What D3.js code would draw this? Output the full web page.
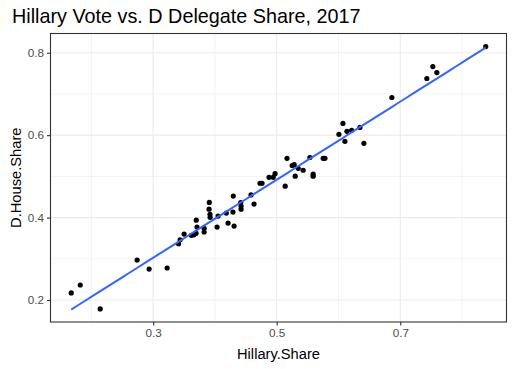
<!DOCTYPE html>
<html><head><meta charset="utf-8">
<script src="https://cdn.jsdelivr.net/npm/d3@7"></script>
<style>body{margin:0;background:#fff;} text{font-family:"Liberation Sans",Arial,sans-serif;}</style>
</head><body><svg id="c" width="514" height="369"></svg>
<script>
const hillaryShare = [0.1674,0.1820,0.2143,0.2741,0.2935,0.3226,0.3411,0.3437,0.3501,0.3618,0.3658,0.3695,0.3698,0.3710,0.3825,0.3825,0.3909,0.3905,0.3920,0.3922,0.4035,0.4051,0.4184,0.4213,0.4297,0.4292,0.4310,0.4418,0.4423,0.4423,0.4584,0.4633,0.4730,0.4762,0.4876,0.4943,0.4973,0.5137,0.5167,0.5251,0.5283,0.5299,0.5348,0.5428,0.5537,0.5590,0.5590,0.5752,0.5781,0.6007,0.6072,0.6104,0.6137,0.6213,0.6347,0.6411,0.6864,0.7430,0.7527,0.7592,0.8384];
const houseShare = [0.2172,0.2365,0.1785,0.2970,0.2752,0.2777,0.3365,0.3461,0.3599,0.3570,0.3582,0.3619,0.3938,0.3769,0.3740,0.3650,0.4369,0.4204,0.4078,0.4006,0.3769,0.4037,0.4110,0.3868,0.4521,0.4134,0.3793,0.4364,0.4279,0.4204,0.4550,0.4328,0.4833,0.4833,0.4978,0.4978,0.5066,0.4763,0.5438,0.5264,0.5283,0.5005,0.5196,0.5148,0.5458,0.5053,0.5005,0.5438,0.5438,0.6019,0.6285,0.5850,0.6092,0.6116,0.6188,0.5801,0.6914,0.7374,0.7664,0.7519,0.8148];
const xTicks = [0.3,0.5,0.7];
const xMinor = [0.2,0.4,0.6,0.8];
const yTicks = [0.2,0.4,0.6,0.8];
const yMinor = [0.3,0.5,0.7];
const titleText = "Hillary Vote vs. D Delegate Share, 2017";
const xLabel = "Hillary.Share";
const yLabel = "D.House.Share";

const svg = d3.select("#c");
const L = 50.5, R = 506.5, T = 33.5, B = 322;
function expand(arr){const [a,b]=d3.extent(arr);const p=(b-a)*0.05;return [a-p,b+p];}
const x = d3.scaleLinear().domain(expand(hillaryShare)).range([L,R]);
const y = d3.scaleLinear().domain(expand(houseShare)).range([B,T]);

svg.append("rect").attr("x",L).attr("y",T).attr("width",R-L).attr("height",B-T).attr("fill","#fff");
const g = svg.append("g");
g.selectAll(".xm").data(xMinor).join("line").attr("x1",d=>x(d)).attr("x2",d=>x(d)).attr("y1",T).attr("y2",B).attr("stroke","#EBEBEB").attr("stroke-width",0.6);
g.selectAll(".ym").data(yMinor).join("line").attr("y1",d=>y(d)).attr("y2",d=>y(d)).attr("x1",L).attr("x2",R).attr("stroke","#EBEBEB").attr("stroke-width",0.6);
g.selectAll(".xM").data(xTicks).join("line").attr("x1",d=>x(d)).attr("x2",d=>x(d)).attr("y1",T).attr("y2",B).attr("stroke","#EBEBEB").attr("stroke-width",1.1);
g.selectAll(".yM").data(yTicks).join("line").attr("y1",d=>y(d)).attr("y2",d=>y(d)).attr("x1",L).attr("x2",R).attr("stroke","#EBEBEB").attr("stroke-width",1.1);

const pts = hillaryShare.map((h,i)=>({x:h,y:houseShare[i]}));
svg.append("g").selectAll("circle").data(pts).join("circle")
  .attr("cx",d=>x(d.x)).attr("cy",d=>y(d.y)).attr("r",2.6).attr("fill","#000");

const mx = d3.mean(hillaryShare), my = d3.mean(houseShare);
let sxy=0,sxx=0; pts.forEach(p=>{sxy+=(p.x-mx)*(p.y-my);sxx+=(p.x-mx)**2;});
const slope = sxy/sxx, icpt = my - slope*mx;
const [x0,x1] = d3.extent(hillaryShare);
const fit = d3.range(0,81).map(i=>{const xv=x0+(x1-x0)*i/80;return [xv,icpt+slope*xv];});
svg.append("path").datum(fit).attr("d",d3.line().x(d=>x(d[0])).y(d=>y(d[1])))
  .attr("fill","none").attr("stroke","#3366FF").attr("stroke-width",2);

svg.append("rect").attr("x",L).attr("y",T).attr("width",R-L).attr("height",B-T).attr("fill","none").attr("stroke","#333333").attr("stroke-width",1.1);

const xa = svg.append("g").attr("transform",`translate(0,${B})`).call(d3.axisBottom(x).tickValues(xTicks).tickFormat(d3.format(".1f")).tickSize(3.5).tickPadding(3));
const ya = svg.append("g").attr("transform",`translate(${L},0)`).call(d3.axisLeft(y).tickValues(yTicks).tickFormat(d3.format(".1f")).tickSize(3.5).tickPadding(3));
[xa,ya].forEach(a=>{a.select(".domain").remove();a.selectAll("line").attr("stroke","#333333").attr("stroke-width",1.1);
  a.selectAll("text").attr("fill","#4D4D4D").style("font-size","11.7px").style("font-family","'Liberation Sans',Arial,sans-serif");});

svg.append("text").attr("x",12).attr("y",23).text(titleText).attr("fill","#000").style("font-size","19.8px");
svg.append("text").attr("x",(L+R)/2).attr("y",359).attr("text-anchor","middle").text(xLabel).attr("fill","#000").style("font-size","14.7px");
svg.append("text").attr("transform",`translate(21,${(T+B)/2}) rotate(-90)`).attr("text-anchor","middle").text(yLabel).attr("fill","#000").style("font-size","14.7px");
</script></body></html>
